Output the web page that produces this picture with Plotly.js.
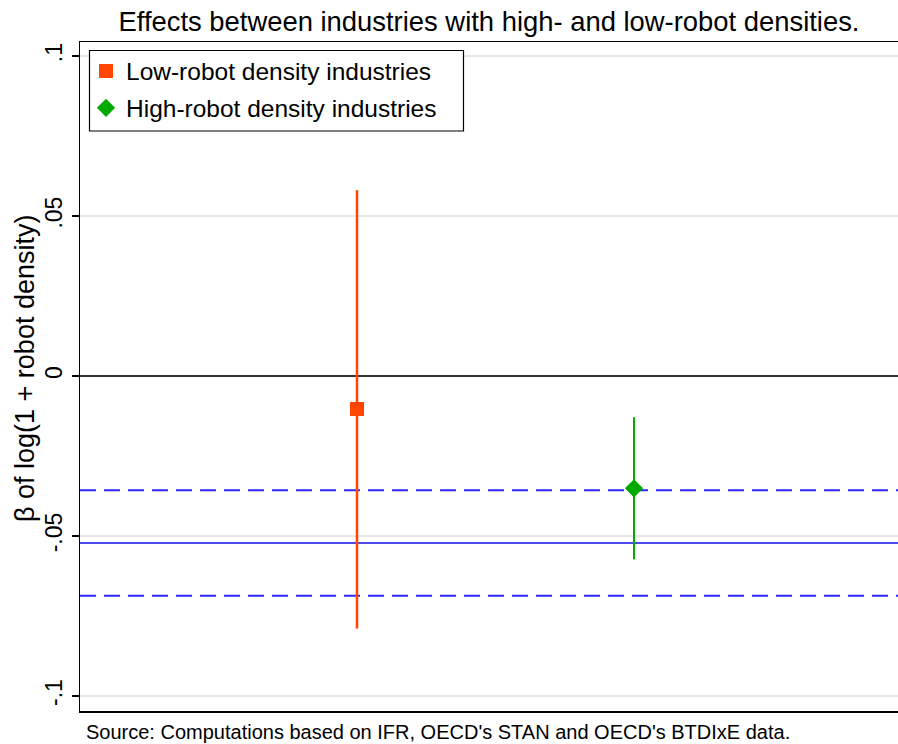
<!DOCTYPE html>
<html>
<head>
<meta charset="utf-8">
<script src="https://cdn.plot.ly/plotly-3.0.1.min.js"></script>
<style>html,body{margin:0;padding:0;background:#fff;}#chart{width:898px;height:744px;}</style>
</head>
<body>
<div id="chart"></div>
<script>
// Data
const seriesNames = ["Low-robot density industries", "High-robot density industries"];
const xPos = [1, 2];
const estimates = [-0.0103, -0.0351];
const upperCI = [0.0581, -0.0129];
const lowerCI = [-0.0789, -0.0573];
const pooledEstimate = [-0.0522];
const pooledCI = [-0.0357, -0.0687];
const yTickVals = [-0.1, -0.05, 0, 0.05, 0.1];
const yTickText = ["-.1", "-.05", "0", ".05", ".1"];
const yTitle = "β of log(1 + robot density)";
const sourceNote = "Source: Computations based on IFR, OECD's STAN and OECD's BTDIxE data.";

const colors = ["#ff4500", "#00aa00"];
const symbols = ["square", "diamond"];
const sizes = [14, 14];

const FONT = "Liberation Sans, Arial, sans-serif";
const W = 818, H = 669, L = 80, T = 42;
const px = x => (x - L) / W;
const py = y => (T + H - y) / H;

const traces = seriesNames.map((name, i) => ({
  type: "scatter",
  mode: "markers",
  name: name,
  x: [xPos[i]],
  y: [estimates[i]],
  legendgroup: "g" + i,
  marker: {color: colors[i], symbol: symbols[i], size: sizes[i], line: {width: 0}},
  error_y: {
    type: "data",
    symmetric: false,
    array: [upperCI[i] - estimates[i]],
    arrayminus: [estimates[i] - lowerCI[i]],
    color: colors[i],
    thickness: i === 0 ? 2.5 : 2,
    width: 0
  },
  hoverinfo: "skip"
}));

const shapes = [];
pooledEstimate.forEach(v => shapes.push({
  type: "line", xref: "paper", x0: 0, x1: 1, yref: "y", y0: v, y1: v,
  layer: "below", line: {color: "#1010e6", width: 1.5}
}));
pooledCI.forEach(v => shapes.push({
  type: "line", xref: "paper", x0: 0, x1: 1, yref: "y", y0: v, y1: v,
  layer: "below", line: {color: "#2a2aff", width: 2, dash: "16px,8px"}
}));
// legend frame
shapes.push({
  type: "rect", xref: "paper", yref: "paper",
  x0: px(89.5), x1: px(463.5), y0: py(131), y1: py(50.5),
  layer: "above", fillcolor: "#ffffff", line: {color: "#000", width: 1.2}
});

const layout = {
  width: 898, height: 744,
  margin: {l: 80, r: 0, t: 42, b: 33, pad: 0},
  paper_bgcolor: "#ffffff", plot_bgcolor: "#ffffff",
  font: {family: FONT, color: "#000"},
  title: {
    text: "Effects between industries with high- and low-robot densities.",
    font: {family: FONT, size: 27.4, color: "#000"},
    xref: "paper", x: 0.5, xanchor: "center",
    yref: "container", y: 1 - 21/744, yanchor: "middle"
  },
  showlegend: true,
  legend: {
    x: px(86), y: py(48.5), xanchor: "left", yanchor: "top",
    borderwidth: 0, bgcolor: "rgba(0,0,0,0)",
    font: {family: FONT, size: 24.5, color: "#000"},
    traceorder: "grouped", tracegroupgap: 2
  },
  xaxis: {
    range: [0, 2.953], showgrid: false, zeroline: false,
    showticklabels: false, ticks: "",
    showline: true, linecolor: "#000", linewidth: 1.5, mirror: true
  },
  yaxis: {
    range: [-0.1047, 0.1044],
    tickvals: yTickVals, ticktext: yTickText, tickangle: -90,
    ticks: "outside", ticklen: 7, tickcolor: "#000", tickwidth: 1.5,
    tickfont: {family: FONT, size: 23, color: "#000"},
    showgrid: true, gridcolor: "#e8e8e8", gridwidth: 1.5,
    zeroline: true, zerolinecolor: "#333", zerolinewidth: 1.5,
    showline: true, linecolor: "#000", linewidth: 1.5
  },
  shapes: shapes,
  annotations: [{
    text: sourceNote, xref: "paper", yref: "paper",
    x: px(84), y: py(732), xanchor: "left", yanchor: "middle",
    showarrow: false, font: {family: FONT, size: 20, color: "#000"}
  }, {
    text: yTitle, xref: "paper", yref: "paper", textangle: -90,
    x: px(25), y: py(369), xanchor: "center", yanchor: "middle",
    showarrow: false, font: {family: FONT, size: 27, color: "#000"}
  }]
};

Plotly.newPlot("chart", traces, layout, {displayModeBar: false, staticPlot: true});
</script>
</body>
</html>
